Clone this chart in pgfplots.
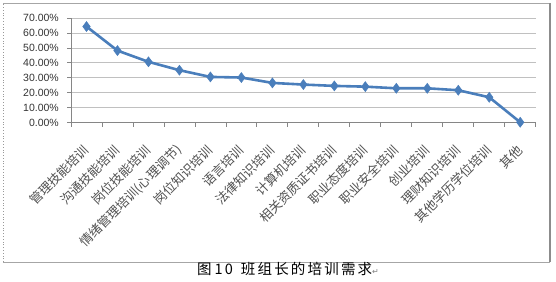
\documentclass[border=0pt]{standalone}
\usepackage{fontspec}
\setmainfont{Liberation Sans}
\newfontfamily\cjk{Noto Sans CJK SC}
\newfontfamily\capfont[LetterSpace=15]{Noto Sans CJK SC}
\newfontfamily\symfont{DejaVu Sans}
\usepackage{pgfplots}
\pgfplotsset{compat=1.18}
\definecolor{linecol}{HTML}{4A7EBB}
\definecolor{gridcol}{HTML}{C0C0C0}
\definecolor{axcol}{HTML}{868686}
\definecolor{labcol}{HTML}{505050}
\begin{document}
\begin{tikzpicture}[x=1bp,y=1bp]
\useasboundingbox (0,0) rectangle (556,281);
% outer frame
\draw[gray!70, line width=0.8bp] (3,278) -- (550,278);
\draw[gray!90, line width=1.2bp] (550,278) -- (550,19);
\draw[gray!70, line width=0.8bp] (550,19) -- (3,19);
\draw[gray!80, line width=0.8bp, dotted] (3,19) -- (3,278);
\begin{axis}[
  at={(71bp,158.3bp)}, anchor=south west,
  scale only axis, width=464.7bp, height=104.7bp,
  xmin=-0.5, xmax=14.5, ymin=0, ymax=70,
  ytick={0,10,...,70},
  xtick={-0.5,0.5,...,14.5},
  xticklabels={},
  extra x ticks={0,1,...,14},
  extra x tick labels={管理技能培训,沟通技能培训,岗位技能培训,情绪管理培训(心理调节),岗位知识培训,语言培训,法律知识培训,计算机培训,相关资质证书培训,职业态度培训,职业安全培训,创业培训,理财知识培训,其他学历学位培训,其他},
  extra x tick style={major tick length=0pt, grid=none,
     xticklabel style={font=\cjk\fontsize{12.8bp}{13bp}\selectfont, text=labcol, inner sep=0pt, yshift=-25bp, xshift=0bp, rotate=45, anchor=east}},
  yticklabel={\pgfmathprintnumber[fixed,fixed zerofill,precision=2]{\tick}\%},
  yticklabel style={font=\fontsize{10.5bp}{12bp}\selectfont, text=black!80, inner sep=0pt},
  yticklabel shift=8bp,
  /pgf/number format/assume math mode=true,
  axis x line*=bottom, axis y line*=left,
  axis line style={axcol, line width=0.8bp},
  tick style={axcol, line width=0.8bp},
  tick align=outside, major tick length=4bp,
  ymajorgrids, grid style={gridcol, line width=0.8bp},
  axis line style={-},
  clip=false,
]
\addplot[linecol, line width=2.6bp, mark=diamond*, mark size=5bp, mark options={fill=linecol, line width=0.5bp}]
coordinates {
(0,64.3) (1,48.2) (2,40.7) (3,35.1) (4,30.6) (5,30.2) (6,26.6) (7,25.5)
(8,24.6) (9,24.1) (10,23.0) (11,23.0) (12,21.7) (13,17.0) (14,0.3)
};
\end{axis}
\node[anchor=west, inner sep=0pt] at (197,12) {\capfont\fontsize{14.5bp}{16bp}\selectfont 图\hspace{3bp}10\hspace{8bp}班组长的培训需求\textcolor{gray}{\symfont\fontsize{8bp}{9bp}\selectfont ↵}};
\end{tikzpicture}
\end{document}
